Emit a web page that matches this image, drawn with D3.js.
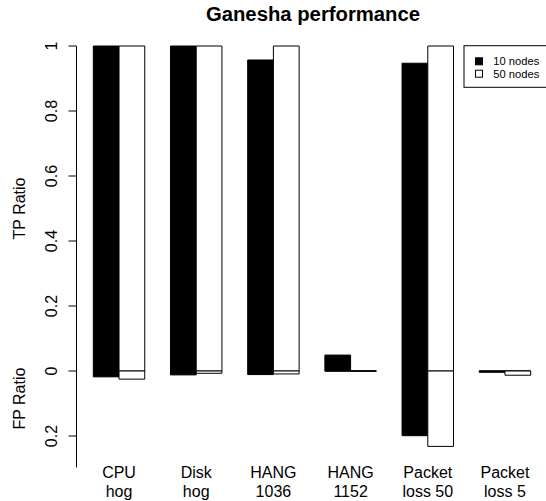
<!DOCTYPE html>
<html>
<head>
<meta charset="utf-8">
<script src="https://cdn.jsdelivr.net/npm/d3@7"></script>
<style>
  html, body { margin: 0; padding: 0; background: #fff; }
  svg { display: block; font-family: "Liberation Sans", Arial, Helvetica, sans-serif; }
</style>
</head>
<body>
<svg id="chart" width="546" height="501"></svg>
<script>
// ---- data ----
const categories = [["CPU", "hog"], ["Disk", "hog"], ["HANG", "1036"], ["HANG", "1152"], ["Packet", "loss 50"], ["Packet", "loss 5"]];
const seriesNames = ["10 nodes", "50 nodes"];
const tp10 = [1, 1, 0.957, 0.049, 0.947, 0];
const tp50 = [1, 1, 1, 0, 1, 0];
const fp10 = [0.018, 0.012, 0.011, 0, 0.199, 0.004];
const fp50 = [0.025, 0.007, 0.009, 0, 0.232, 0.013];
const tpTicks = [0, 0.2, 0.4, 0.6, 0.8, 1];
const tpTickLabels = ["0", "0.2", "0.4", "0.6", "0.8", "1"];
const fpTicks = [-0.2];
const fpTickLabels = ["0.2"];
const title = "Ganesha performance";

// ---- scales ----
const svg = d3.select("#chart");
const x = d3.scaleLinear().domain([1, 18]).range([93.3, 530.7]);
const y = d3.scaleLinear().domain([0, 1]).range([371, 46]);

// ---- bars ----
const bars = [];
categories.forEach((c, i) => {
  const x0 = 1 + 3 * i;
  bars.push({x0: x0, v: tp10[i], fill: "#000"});
  bars.push({x0: x0 + 1, v: tp50[i], fill: "#fff"});
  bars.push({x0: x0, v: -fp10[i], fill: "#000"});
  bars.push({x0: x0 + 1, v: -fp50[i], fill: "#fff"});
});
svg.append("g").selectAll("path").data(bars).join("path")
  .attr("d", d => {
    const p = d3.path();
    const xa = x(d.x0), xb = x(d.x0 + 1), ya = y(0), yb = y(d.v);
    p.moveTo(xa, ya); p.lineTo(xb, ya); p.lineTo(xb, yb); p.lineTo(xa, yb); p.closePath();
    return p.toString();
  })
  .attr("fill", d => d.fill)
  .attr("stroke", "#000")
  .attr("stroke-width", 1);

// ---- y axis ----
const axisG = svg.append("g").attr("transform", "translate(76.5,0)");
axisG.append("line").attr("x1", 0).attr("x2", 0)
  .attr("y1", y(1)).attr("y2", y(-0.297)).attr("stroke", "#000");
const allTicks = tpTicks.map((t, i) => ({v: t, l: tpTickLabels[i]}))
  .concat(fpTicks.map((t, i) => ({v: t, l: fpTickLabels[i]})));
allTicks.forEach(t => {
  axisG.append("line").attr("x1", -8).attr("x2", 0)
    .attr("y1", y(t.v)).attr("y2", y(t.v)).attr("stroke", "#000");
  axisG.append("text")
    .attr("transform", `translate(-20,${y(t.v)}) rotate(-90)`)
    .attr("text-anchor", "middle")
    .attr("font-size", 16)
    .text(t.l);
});
svg.append("text")
  .attr("transform", `translate(25,${y(0.5)}) rotate(-90)`)
  .attr("text-anchor", "middle").attr("font-size", 16).text("TP Ratio");
svg.append("text")
  .attr("transform", `translate(25,${y(-0.085)}) rotate(-90)`)
  .attr("text-anchor", "middle").attr("font-size", 16).text("FP Ratio");

// ---- category labels ----
categories.forEach((c, i) => {
  const cx = x(2 + 3 * i);
  svg.append("text").attr("x", cx).attr("y", 477.7)
    .attr("text-anchor", "middle").attr("font-size", 16).text(c[0]);
  svg.append("text").attr("x", cx).attr("y", 496.7)
    .attr("text-anchor", "middle").attr("font-size", 16).text(c[1]);
});

// ---- title ----
svg.append("text").attr("x", 313).attr("y", 20.7)
  .attr("text-anchor", "middle").attr("font-size", 20.3)
  .attr("font-weight", "bold").text(title);

// ---- legend ----
const lg = svg.append("g");
lg.append("rect").attr("x", 464).attr("y", 45.7).attr("width", 100).attr("height", 41.6)
  .attr("fill", "#fff").attr("stroke", "#000");
const legFills = ["#000", "#fff"];
seriesNames.forEach((s, i) => {
  const by = 65.3 + 12.4 * i;
  lg.append("rect").attr("x", 475.5).attr("y", by - 7.5).attr("width", 7).attr("height", 7)
    .attr("fill", legFills[i]).attr("stroke", "#000");
  lg.append("text").attr("x", 493.3).attr("y", by)
    .attr("font-size", 11.2).text(s);
});
</script>
</body>
</html>
